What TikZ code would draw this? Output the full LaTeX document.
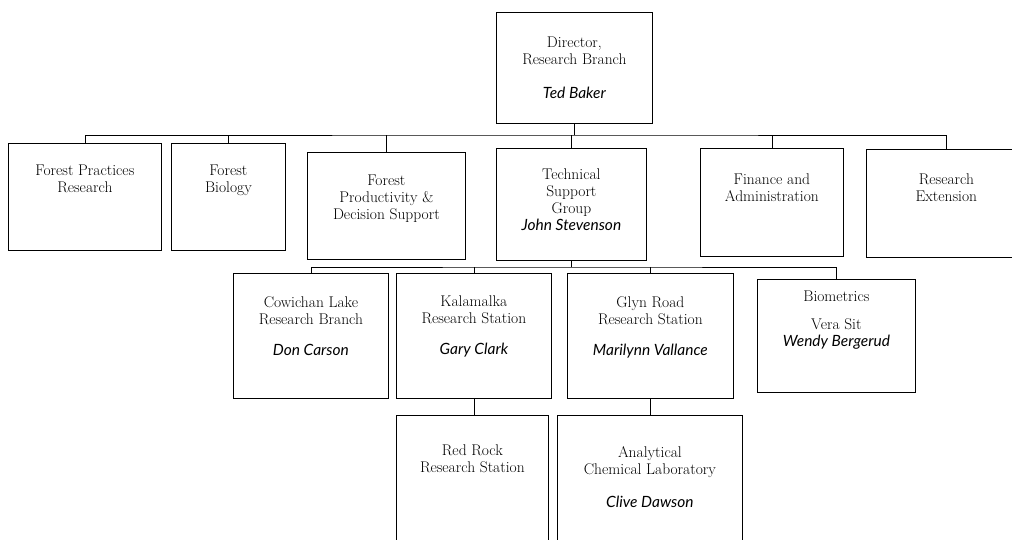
\documentclass[tikz,border=0pt]{standalone}
\usepackage{fontspec}
\newfontfamily\namefont{Lato}
\usetikzlibrary{positioning}
\newcommand{\who}[1]{{\namefont\itshape #1}}
\tikzset{%
  unit/.style={draw,anchor=north west,inner sep=0,line width=0.8pt},
  txt/.style={align=center,inner sep=0,anchor=north,font=\fontsize{15.5}{17}\selectfont},
  link/.style={draw,line width=0.8pt}
}

\begin{document}
\begin{tikzpicture}[x=1pt,y=-1pt]
      \clip (0,0) rectangle (1012,539);
      \path
        (496,12) node (dir)[unit,minimum width=156,minimum height=111]{}
        (8,143) node (fpr)[unit,minimum width=153,minimum height=107]{}
        (171,143) node (fb)[unit,minimum width=114,minimum height=107]{}
        (307,152) node (fpds)[unit,minimum width=158,minimum height=107]{}
        (496,148) node (tsg)[unit,minimum width=150,minimum height=112]{}
        (700,148) node (fa)[unit,minimum width=143,minimum height=108]{}
        (866,149) node (re)[unit,minimum width=160,minimum height=108]{}
        (233,273) node (clrb)[unit,minimum width=155,minimum height=125]{}
        (396,273) node (krs)[unit,minimum width=155,minimum height=125]{}
        (567,273) node (grrs)[unit,minimum width=166,minimum height=125]{}
        (757,279) node (bio)[unit,minimum width=158,minimum height=113]{}
        (396,415) node (rrrs)[unit,minimum width=152,minimum height=150]{}
        (557,415) node (acl)[unit,minimum width=185,minimum height=150]{};
      % texts
      \node[txt,below=25pt of dir.north] (dir-t) {Director,\\Research Branch\\[17pt]\who{Ted Baker}};
      \node[txt,below=22pt of fpr.north] (fpr-t) {Forest Practices\\Research};
      \node[txt,below=22pt of fb.north] (fb-t) {Forest\\Biology};
      \node[txt,below=23pt of fpds.north] (fpds-t) {Forest\\Productivity \&\\Decision Support};
      \node[txt,below=21pt of tsg.north] (tsg-t) {Technical\\Support\\Group\\\who{John Stevenson}};
      \node[txt,below=26pt of fa.north] (fa-t) {Finance and\\Administration};
      \node[txt,below=25pt of re.north] (re-t) {Research\\Extension};
      \node[txt,below=23pt of clrb.north] (clrb-t) {Cowichan Lake\\Research Branch\\[14pt]\who{Don Carson}};
      \node[txt,below=23pt of krs.north] (krs-t) {Kalamalka\\Research Station\\[14pt]\who{Gary Clark}};
      \node[txt,below=23pt of grrs.north] (grrs-t) {Glyn Road\\Research Station\\[14pt]\who{Marilynn Vallance}};
      \node[txt,below=12pt of bio.north] (bio-t) {Biometrics\\[11pt]Vera Sit\\\who{Wendy Bergerud}};
      \node[txt,below=30pt of rrrs.north] (rrrs-t) {Red Rock\\Research Station};
      \node[txt,below=31pt of acl.north] (acl-t) {Analytical\\Chemical Laboratory\\[16pt]\who{Clive Dawson}};
      % connectors
      \coordinate (top) at (574,135);
      \coordinate (low) at (571,267);
      \path[link] (dir.south) -- (dir.south |- top);
      \path[link] (fpr.north) |- (top) -| (re.north);
      \path[link] (fb.north) -- (fb.north |- top);
      \path[link] (fpds.north) -- (fpds.north |- top);
      \path[link] (tsg.north) -- (tsg.north |- top);
      \path[link] (fa.north) -- (fa.north |- top);
      \path[link] (tsg.south) -- (tsg.south |- low);
      \path[link] (clrb.north) |- (low) -| (bio.north);
      \path[link] (krs.north) -- (krs.north |- low);
      \path[link] (grrs.north) -- (grrs.north |- low);
      \path[link] (krs.south) -- (krs.south |- rrrs.north);
      \path[link] (grrs.south) -- (grrs.south |- acl.north);
\end{tikzpicture}
\end{document}
